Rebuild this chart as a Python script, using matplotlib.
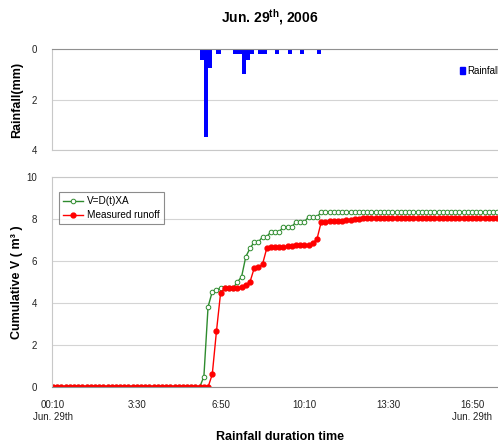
import matplotlib
matplotlib.use('Agg')
import matplotlib.pyplot as plt
import numpy as np
from matplotlib.patches import Patch

plt.rcParams['font.family'] = ['Liberation Sans', 'DejaVu Sans']
plt.rcParams['mathtext.fontset'] = 'custom'
plt.rcParams['mathtext.rm'] = 'Liberation Sans:bold'

# ---- data (10-minute steps starting 00:10, Jun. 29th) ----
tick_index = [0, 20, 40, 60, 80, 100]
tick_labels = ['00:10\nJun. 29th', '3:30', '6:50', '10:10', '13:30', '16:50\nJun. 29th']

rain_index = [35, 36, 37, 39, 43, 44, 45, 46, 47, 49, 50, 53, 56, 59, 63]
rain_mm = [0.45, 3.5, 0.75, 0.2, 0.2, 0.2, 1.0, 0.45, 0.2, 0.2, 0.2, 0.2, 0.2, 0.2, 0.2]

v_model = ([0.0] * 36 +
           [0.49, 3.82, 4.54, 4.6, 4.72, 4.72, 4.72, 4.72, 5.0, 5.25,
            6.2, 6.6, 6.9, 6.9, 7.15, 7.15, 7.4, 7.4, 7.4, 7.63,
            7.63, 7.63, 7.87, 7.87, 7.87, 8.1, 8.1, 8.1] +
           [8.33] * 44)

v_measured = ([0.0] * 38 +
              [0.6, 2.65, 4.5, 4.7, 4.7, 4.7, 4.7, 4.75, 4.85, 5.0,
               5.65, 5.7, 5.85, 6.6, 6.65, 6.65, 6.65, 6.68, 6.7, 6.72,
               6.75, 6.75, 6.75, 6.78, 6.85, 7.05, 7.85, 7.88, 7.9, 7.9,
               7.9, 7.92, 7.95, 7.95, 7.98, 8.0] +
              [8.05] * 34)

n = len(v_model)
x = np.arange(n)

W, H = 498, 447
fig = plt.figure(figsize=(W / 100, H / 100), dpi=100)

def fx(px):
    return px / W

def fy(py):
    return 1 - py / H

ax_left = 52
xlim = (-0.25, 106.2)
ylab_x = (17 - ax_left) / (W - ax_left)

# ---- top: rainfall ----
ax1 = fig.add_axes([fx(ax_left), fy(150), 1 - fx(ax_left), fy(49) - fy(150)])
rain = np.zeros(n)
for i, v in zip(rain_index, rain_mm):
    rain[i] = v
ax1.bar(x, rain, width=1.0, align='edge', color='#0000FF', linewidth=0)
ax1.set_xlim(*xlim)
ax1.set_ylim(4, 0)
ax1.set_yticks([0, 2, 4])
ax1.set_xticks([])
ax1.yaxis.grid(True, color='#D4D4D4', linewidth=0.8)
ax1.set_axisbelow(True)
ax1.tick_params(axis='y', length=0, pad=11, labelsize=7, labelcolor='#222222')
ax1.spines['right'].set_visible(False)
ax1.spines['top'].set_color('#909090')
ax1.spines['left'].set_color('#C8C8C8')
ax1.spines['bottom'].set_color('#C8C8C8')
ax1.set_ylabel('Rainfall(mm)', fontsize=9, fontweight='bold', va='center')
ax1.yaxis.set_label_coords(ylab_x, 0.5)
ax1.legend(handles=[Patch(color='#0000FF')], labels=['Rainfall'],
           loc='center left', bbox_to_anchor=((460 - ax_left) / (W - ax_left), (150 - 71) / 101),
           frameon=False, fontsize=7, handlelength=0.55, handleheight=0.65,
           handletextpad=0.2, borderaxespad=0, borderpad=0)

# ---- bottom: cumulative volume ----
ax2 = fig.add_axes([fx(ax_left), fy(387), 1 - fx(ax_left), fy(177) - fy(387)])
ax2.plot(x, v_model, color='#2E8B2E', linewidth=1.0, marker='o', markersize=3.3,
         markerfacecolor='white', markeredgecolor='#2E8B2E', markeredgewidth=0.7,
         label='V=D(t)XA')
ax2.plot(x, v_measured, color='#FF0000', linewidth=1.0, marker='o', markersize=3.5,
         markerfacecolor='#FF0000', markeredgecolor='#FF0000', label='Measured runoff')
ax2.set_xlim(*xlim)
ax2.set_ylim(0, 10)
ax2.set_yticks([0, 2, 4, 6, 8, 10])
ax2.set_xticks(tick_index)
ax2.set_xticklabels(tick_labels, fontsize=7, color='#222222', linespacing=1.3)
ax2.yaxis.grid(True, color='#D4D4D4', linewidth=0.8)
ax2.set_axisbelow(True)
ax2.tick_params(axis='y', length=0, pad=11, labelsize=7, labelcolor='#222222')
ax2.tick_params(axis='x', length=0, pad=9)
ax2.spines['right'].set_visible(False)
ax2.spines['bottom'].set_color('#909090')
ax2.spines['left'].set_color('#C8C8C8')
ax2.spines['top'].set_color('#C8C8C8')
ax2.set_ylabel('Cumulative V ( m³ )', fontsize=9, fontweight='bold', va='center')
ax2.yaxis.set_label_coords(ylab_x, 0.5)
ax2.set_xlabel('Rainfall duration time', fontsize=9, fontweight='bold', va='center')
ax2.xaxis.set_label_coords((280 - ax_left) / (W - ax_left), -(437 - 387) / 210)
leg = ax2.legend(loc='upper left', bbox_to_anchor=((59 - ax_left) / (W - ax_left), (387 - 192) / 210),
                 fontsize=7.2, frameon=True, fancybox=False, borderaxespad=0,
                 handlelength=2.0, handletextpad=0.4, borderpad=0.4, labelspacing=0.4)
leg.get_frame().set_edgecolor('#707070')
leg.get_frame().set_linewidth(0.8)

fig.text(fx(270), fy(17), r'Jun. 29$^{\mathrm{th}}$, 2006', ha='center', va='center',
         fontsize=10, fontweight='bold')

fig.savefig('out.png', dpi=100)
